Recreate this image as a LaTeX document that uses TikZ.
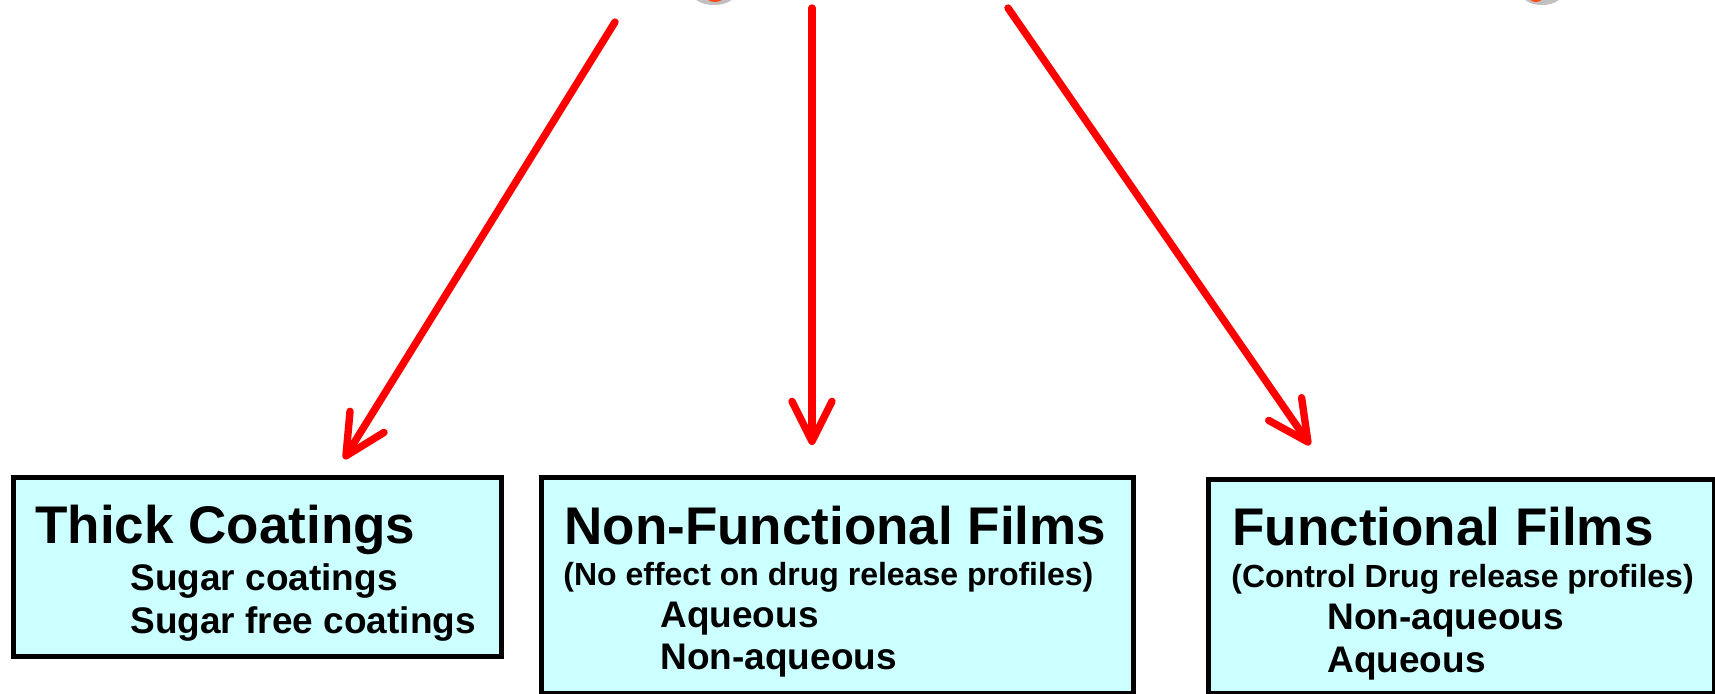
\documentclass[tikz,border=0pt]{standalone}
\usepackage{fontspec}
\setmainfont{Liberation Sans}
\usetikzlibrary{arrows.meta}
\definecolor{boxfill}{HTML}{CCFFFF}
\definecolor{arrowred}{HTML}{FF0000}
\definecolor{shadowgray}{HTML}{C0C0C0}
\definecolor{blobred}{HTML}{FF4A1A}
\begin{document}
\begin{tikzpicture}[x=0.5pt,y=-0.5pt,
  box/.style={draw=black, line width=2.6pt, fill=boxfill, inner sep=0pt, anchor=north west},
  ttl/.style={anchor=base west, inner sep=0pt, font=\bfseries\fontsize{26.5}{30}\selectfont},
  sub/.style={anchor=base west, inner sep=0pt, font=\bfseries\fontsize{18.5}{22}\selectfont},
  note/.style={anchor=base west, inner sep=0pt, font=\bfseries\fontsize{16}{19}\selectfont},
  conn/.style={draw=arrowred, line width=3.7pt, line cap=round,
    -{Straight Barb[length=20pt,width=20pt,line cap=round,line join=round]}}]
\useasboundingbox (0,0) rectangle (1715,693);
\begin{scope}
  \clip (0,0) rectangle (1715,693);
  \fill[shadowgray] (714,-6) ellipse [x radius=21, y radius=11];
  \fill[blobred] (715,-5) ellipse [x radius=10, y radius=7];
  \fill[shadowgray] (1542,-6) ellipse [x radius=20, y radius=11];
  \fill[blobred] (1536,-5) ellipse [x radius=8, y radius=7];
\end{scope}
% boxes
\node[box, minimum width=244pt, minimum height=89.5pt] (box1) at (11,475) {};
\node[box, minimum width=296pt, minimum height=108pt] (box2) at (539,475) {};
\node[box, minimum width=253pt, minimum height=107pt] (box3) at (1206,477) {};
% texts
\node[ttl] (t1a) at (35,543) {Thick Coatings};
\node[sub] (t1b) at (130,590) {Sugar coatings};
\node[sub] (t1c) at (130,633) {Sugar free coatings};
\node[ttl] (t2a) at (564,544) {Non-Functional Films};
\node[note] (t2b) at (563,585) {(No effect on drug release profiles)};
\node[sub] (t2c) at (660,627) {Aqueous};
\node[sub] (t2d) at (660,669) {Non-aqueous};
\node[ttl] (t3a) at (1232,545) {Functional Films};
\node[note] (t3b) at (1231,587) {(Control Drug release profiles)};
\node[sub] (t3c) at (1327,629) {Non-aqueous};
\node[sub] (t3d) at (1327,672) {Aqueous};
% arrows
\coordinate (s1) at (615,22);
\coordinate (e1) at (344,459);
\coordinate (s2) at (812,8);
\coordinate (e2) at (812,445);
\coordinate (s3) at (1008,8);
\coordinate (e3) at (1310,445);
\draw[conn] (s1) -- (e1);
\draw[conn] (s2) -- (e2);
\draw[conn] (s3) -- (e3);
\end{tikzpicture}
\end{document}
